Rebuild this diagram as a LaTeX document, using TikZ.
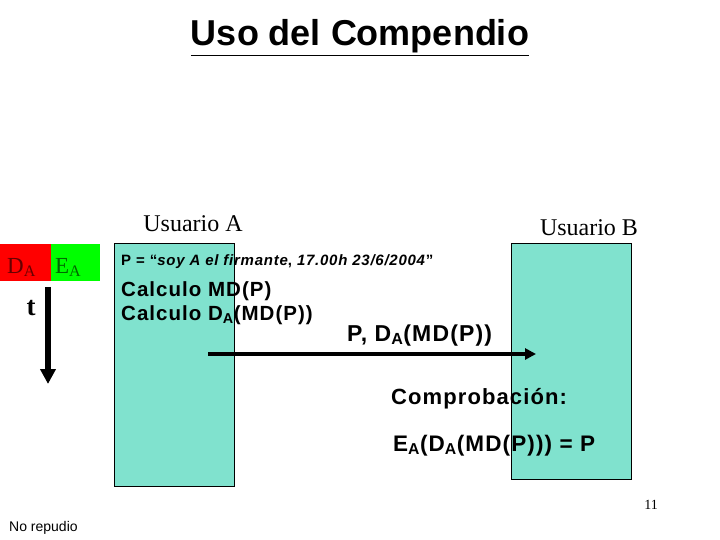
\documentclass[tikz,border=0pt]{standalone}
\usepackage{fontspec}
\setmainfont{Liberation Serif}
\setsansfont{Liberation Sans}
\newfontfamily\spsans[LetterSpace=5]{Liberation Sans}
\usetikzlibrary{arrows.meta}
\definecolor{turq}{RGB}{128,226,206}
\definecolor{redbox}{RGB}{255,0,0}
\definecolor{greenbox}{RGB}{0,255,0}
\tikzset{
  lane/.style={draw=black, line width=0.8pt, fill=turq, anchor=north west, inner sep=0pt},
  sans/.style={anchor=base west, inner sep=0pt},
  serif/.style={inner sep=0pt},
}
\begin{document}
\begin{tikzpicture}[x=1pt,y=-1pt]
\useasboundingbox (0,0) rectangle (720,540);
% title
\node[font=\sffamily\bfseries\fontsize{36}{40}\selectfont, anchor=base, inner sep=0pt] (title) at (360,46) {\underline{Uso del Compendio}};
% lanes
\node[lane, minimum width=120pt, minimum height=243pt] (boxA) at (114,243) {};
\node[lane, minimum width=120pt, minimum height=236pt] (boxB) at (511,243) {};
\node[serif, font=\rmfamily\fontsize{24}{26}\selectfont, anchor=base] (ua) at (193,231) {Usuario A};
\node[serif, font=\rmfamily\fontsize{24}{26}\selectfont, anchor=base] (ub) at (589,236) {Usuario B};
% key
\node[fill=redbox, minimum width=51pt, minimum height=37pt, anchor=north west, inner sep=0pt] (da) at (0,244) {};
\node[fill=greenbox, minimum width=49pt, minimum height=37pt, anchor=north west, inner sep=0pt] (ea) at (51,244) {};
\node[font=\rmfamily\fontsize{23}{24}\selectfont, text=black!60!red, anchor=base west, inner sep=0pt] (dat) at (7,273) {D\textsubscript{A}};
\node[font=\rmfamily\fontsize{23}{24}\selectfont, text=black!60!green, anchor=base west, inner sep=0pt] (eat) at (55,273) {E\textsubscript{A}};
\node[font=\rmfamily\bfseries\fontsize{27}{28}\selectfont, anchor=base, inner sep=0pt] (t) at (31,315) {t};
\coordinate (tstart) at (48,287);
\coordinate (tend) at (48,384);
\draw[line width=6pt, -{Triangle[length=15pt,width=15pt]}] (tstart) -- (tend);
% texts
\node[sans, font=\spsans\bfseries\fontsize{15}{16}\selectfont] (p) at (121,265) {P = “\textit{soy A el firmante}, \textit{17.00h 23/6/2004}”};
\node[sans, font=\spsans\bfseries\fontsize{20.5}{22}\selectfont] (c1) at (121,296) {Calculo MD(P)};
\node[sans, font=\spsans\bfseries\fontsize{20.5}{22}\selectfont] (c2) at (121,320) {Calculo D\textsubscript{A}(MD(P))};
\node[sans, font=\spsans\bfseries\fontsize{23}{26}\selectfont] (msg) at (347,341) {P, D\textsubscript{A}(MD(P))};
\coordinate (mstart) at (208,354);
\coordinate (mend) at (536,354);
\draw[line width=3.5pt, -{Triangle[length=11pt,width=11pt]}] (mstart) -- (mend);
\node[sans, font=\spsans\bfseries\fontsize{22}{24}\selectfont] (comp) at (391,404) {Comprobación:};
\node[sans, font=\spsans\bfseries\fontsize{22.5}{24}\selectfont] (eq) at (393,451) {E\textsubscript{A}(D\textsubscript{A}(MD(P))) = P};
% footer
\node[serif, font=\rmfamily\fontsize{14}{15}\selectfont, anchor=base] (num) at (651,509) {11};
\node[font=\sffamily\fontsize{14}{15}\selectfont, anchor=base west, inner sep=0pt] (nr) at (9,531) {No repudio};
\end{tikzpicture}
\end{document}
